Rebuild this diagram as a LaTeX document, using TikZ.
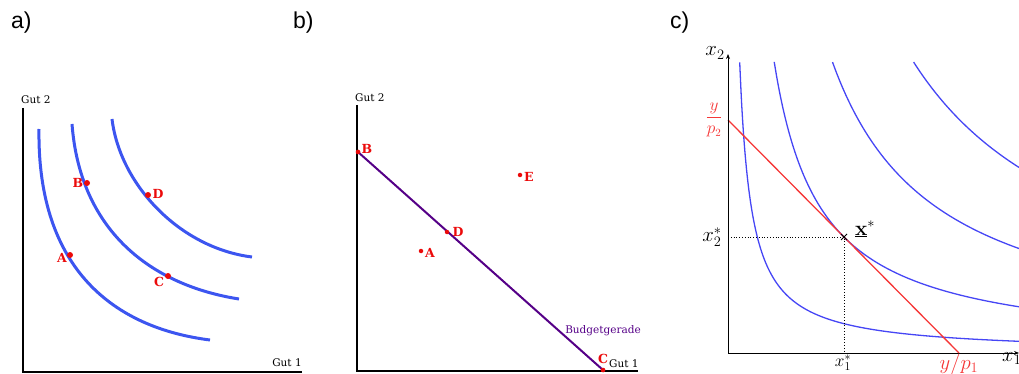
\documentclass[tikz,border=0pt]{standalone}
\usepackage[no-math]{fontspec}
\newfontfamily\dvs{DejaVu Serif}
\newfontfamily\lsans{Liberation Sans}
\usetikzlibrary{arrows.meta}
\definecolor{icblue}{RGB}{60,85,240}
\definecolor{cblue}{RGB}{70,70,245}
\definecolor{ptred}{RGB}{235,10,10}
\definecolor{budget}{RGB}{85,0,135}
\definecolor{bred}{RGB}{245,55,55}
\tikzset{
  panel/.style={font=\lsans\fontsize{23}{27}\selectfont, inner sep=0pt, anchor=base west},
  axlbl/.style={font=\dvs\fontsize{10.5}{12}\selectfont, inner sep=0pt},
  ptlbl/.style={font=\dvs\bfseries\fontsize{12.5}{14}\selectfont, text=ptred, inner sep=0pt},
  dota/.style={circle, fill=ptred, inner sep=0pt, minimum size=6pt},
  dotb/.style={circle, fill=ptred, inner sep=0pt, minimum size=4.5pt},
  axis/.style={line width=2pt, black},
  icurve/.style={line width=3pt, icblue},
  ccurve/.style={line width=1.3pt, cblue},
  caxis/.style={line width=1pt, black},
  mlbl/.style={font=\fontsize{20}{23}\selectfont, inner sep=0pt},
}
\begin{document}
\begin{tikzpicture}[x=1pt, y=-1pt]
\useasboundingbox (0,0) rectangle (1019,374);
% panel labels
\node[panel] (la) at (11,29) {a)};
\node[panel] (lb) at (293,29) {b)};
\node[panel] (lc) at (670,29) {c)};

% ---------------- panel a
\coordinate (aO) at (23,372);
\coordinate (aY) at (23,108);
\coordinate (aX) at (302,372);
\draw[axis] (aY) -- (aO) -- (aX);
\node[axlbl, anchor=west] (ag2) at (21,100) {Gut 2};
\node[axlbl] (ag1) at (287,363) {Gut 1};
\coordinate (a1s) at (39,129); \coordinate (a1e) at (210,340);
\coordinate (a2s) at (72,124); \coordinate (a2e) at (239,299);
\coordinate (a3s) at (112,119); \coordinate (a3e) at (252,257);
\draw[icurve] (a1s) .. controls (37,270) and (115,328) .. (a1e);
\draw[icurve] (a2s) .. controls (80,230) and (150,285) .. (a2e);
\draw[icurve] (a3s) .. controls (120,185) and (180,248) .. (a3e);
\node[dota] (aA) at (70,255) {};
\node[dota] (aB) at (87,183) {};
\node[dota] (aC) at (168,276) {};
\node[dota] (aD) at (148,195) {};
\node[ptlbl] (aAl) at (62,258) {A};
\node[ptlbl] (aBl) at (78,183) {B};
\node[ptlbl] (aCl) at (159,282) {C};
\node[ptlbl] (aDl) at (158,194) {D};

% ---------------- panel b
\coordinate (bO) at (357,371);
\coordinate (bY) at (357,105);
\coordinate (bX) at (638,371);
\draw[axis] (bY) -- (bO) -- (bX);
\node[axlbl, anchor=west] (bg2) at (355,98) {Gut 2};
\node[axlbl, anchor=west] (bg1) at (609,364) {Gut 1};
\node[dotb] (bB) at (358,152) {};
\node[dotb] (bC) at (603,370) {};
\draw[line width=2pt, budget] (bB.center) -- (bC.center);
\node[dotb] (bD) at (447,232) {};
\node[dotb] (bA) at (421,251) {};
\node[dotb] (bE) at (520,175) {};
\node[dotb] at (bB) {};
\node[dotb] at (bC) {};
\node[ptlbl] (bBl) at (367,149) {B};
\node[ptlbl] (bDl) at (458,232) {D};
\node[ptlbl] (bAl) at (430,253) {A};
\node[ptlbl] (bEl) at (529,177) {E};
\node[ptlbl] (bCl) at (603,359) {C};
\node[axlbl, text=budget] (bbg) at (603,331) {Budgetgerade};

% ---------------- panel c
\begin{scope}[shift={(728pt,-353pt)}, x=10pt, y=10pt]
  \coordinate (cO) at (0,0);
  \coordinate (cY) at (0,29.9);
  \coordinate (cX) at (29.1,0);
  \draw[ccurve] plot[domain=1.17:29.1, samples=160, smooth] (\x,{34/\x});
  \draw[ccurve] plot[domain=4.62:29.1, samples=120, smooth] (\x,{134.5/\x});
  \draw[ccurve] plot[domain=10.45:29.1, samples=80, smooth] (\x,{304/\x});
  \draw[ccurve] plot[domain=18.56:29.1, samples=60, smooth] (\x,{540/\x});
  \coordinate (cB1) at (0,23.3);
  \coordinate (cB2) at (23.1,0);
  \draw[line width=1.3pt, bred] (cB1) -- (cB2);
  \coordinate (cXs) at (11.6,11.6);
  \coordinate (cXa) at (0,11.6);
  \coordinate (cXb) at (11.6,0);
  \draw[dotted, line width=0.8pt] (cXa) -- (cXs) -- (cXb);
  \draw[line width=0.8pt] ([shift={(-0.3,-0.3)}]cXs) -- ([shift={(0.3,0.3)}]cXs)
        ([shift={(-0.3,0.3)}]cXs) -- ([shift={(0.3,-0.3)}]cXs);
  \draw[caxis, -{Stealth[length=5pt,width=4pt]}] (cO) -- (cY);
  \draw[caxis, -{Stealth[length=5pt,width=4pt]}] (cO) -- (cX);
\end{scope}
\node[mlbl] (cx2) at (715,53) {$x_2$};
\node[font=\fontsize{16}{18}\selectfont, inner sep=0pt, text=bred] (cyp2) at (714,120) {$\displaystyle\frac{y}{p_2}$};
\node[mlbl] (cx2s) at (712,237) {$x_2^*$};
\node[mlbl] (cxs) at (865,229) {$\underline{\mathbf{x}}^*$};
\node[font=\fontsize{18}{20}\selectfont, inner sep=0pt, anchor=south] (cx1s) at (843,371) {$x_1^*$};
\node[mlbl, text=bred, anchor=north] (cyp1) at (959,354) {$y/p_1$};
\node[mlbl, anchor=north west] (cx1) at (1002,352) {$x_1$};
\end{tikzpicture}
\end{document}
